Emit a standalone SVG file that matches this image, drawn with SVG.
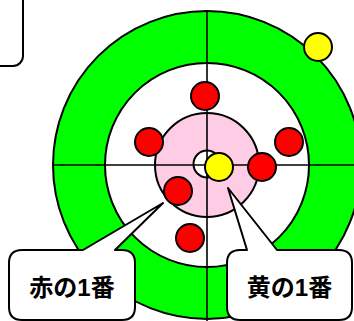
<svg xmlns="http://www.w3.org/2000/svg" width="354" height="321" viewBox="0 0 354 321">
<style>
.ring{stroke:#000;stroke-width:2}
.ln{stroke:#000;stroke-width:1.6;fill:none}
.red{fill:#FF0000;stroke:#000;stroke-width:2}
.yel{fill:#FFFF00;stroke:#000;stroke-width:2}
.call{fill:#fff;stroke:#000;stroke-width:2;stroke-linejoin:round}
.lbl{font-family:"Liberation Sans","Noto Sans CJK JP",sans-serif;font-weight:bold;font-size:24px;fill:#000;text-anchor:middle}
</style>
<rect width="354" height="321" fill="#fff"/>
<g id="house">
<circle cx="207" cy="165" r="154" fill="#00FF00" class="ring"/>
<circle cx="207" cy="165" r="102" fill="#fff" class="ring"/>
<circle cx="207" cy="165" r="52" fill="#FFCCE6" class="ring"/>
<circle cx="207" cy="164" r="13.5" fill="#fff" class="ring"/>
</g>
<g id="connectors">
<line class="ln" x1="207" y1="11" x2="207" y2="321"/>
<line class="ln" x1="53" y1="165" x2="354" y2="165"/>
</g>
<g id="stones">
<circle class="red" cx="205" cy="96" r="14"/>
<circle class="red" cx="149" cy="142" r="14"/>
<circle class="red" cx="289" cy="142" r="14"/>
<circle class="red" cx="262" cy="167" r="14"/>
<circle class="red" cx="178" cy="191" r="14"/>
<circle class="red" cx="190" cy="238" r="14"/>
<circle class="yel" cx="219" cy="167" r="14"/>
<circle class="yel" cx="318" cy="47" r="14"/>
</g>
<g id="box-topleft">
<rect class="call" x="-100" y="-50" width="123" height="116" rx="10"/>
</g>
<g id="callout-red">
<path class="call" d="M22,250 H83 L163,203 L115,250 H122 Q135,250 135,263 V307 Q135,320 122,320 H22 Q9,320 9,307 V263 Q9,250 22,250 Z"/>
<text class="lbl" x="72" y="296">赤の1番</text>
</g>
<g id="callout-yellow">
<path class="call" d="M240,250 H247 L228,188 L277,250 H339 Q352,250 352,263 V307 Q352,320 339,320 H240 Q227,320 227,307 V263 Q227,250 240,250 Z"/>
<text class="lbl" x="289.5" y="296">黄の1番</text>
</g>
</svg>
